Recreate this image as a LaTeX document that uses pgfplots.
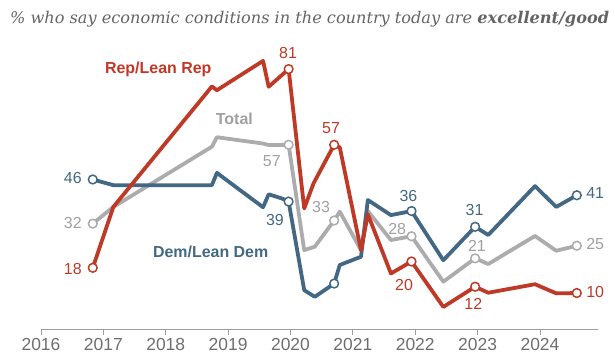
\documentclass[border=0pt]{standalone}
\usepackage{pgfplots}
\pgfplotsset{compat=1.18}
\usepackage{fontspec}
\setmainfont{Liberation Sans}
\newfontfamily\titlefont{DejaVu Serif}
\definecolor{rep}{RGB}{191,57,39}
\definecolor{dem}{RGB}{67,104,132}
\definecolor{tot}{RGB}{172,172,172}
\definecolor{totlab}{RGB}{160,160,160}
\definecolor{ticklab}{RGB}{110,110,110}
\definecolor{titlec}{RGB}{100,100,100}
\newcommand\lab{\fontsize{16}{18}\selectfont}
\newcommand\tlab{\fontsize{17.5}{19}\selectfont}
\newcommand\blab{\fontsize{16}{18}\selectfont\bfseries}
\begin{document}
\begin{tikzpicture}
\path[use as bounding box] (-41bp,-31bp) rectangle (574bp,329bp);
\node[anchor=base west, inner sep=0pt, text=titlec] at (-31bp,305bp)
  {\titlefont\itshape\fontsize{16.2}{18}\selectfont \% who say economic conditions in the country today are \textbf{excellent/good}};
\begin{axis}[
  scale only axis, width=557bp, height=288.3bp,
  xmin=2016, xmax=2024.93, ymin=-1.4, ymax=90,
  axis x line=bottom, axis y line=none,
  x axis line style={-, draw=gray!75, line width=0.8pt},
  xtick={2016,2017,2018,2019,2020,2021,2022,2023,2024},
  xticklabels={2016,2017,2018,2019,2020,2021,2022,2023,2024},
  tick align=outside, major tick length=6bp,
  tick style={draw=gray!75, line width=0.8pt},
  xticklabel style={text=ticklab, font=\tlab},
  clip=false,
  every axis plot/.append style={line width=3.8pt, line join=round, line cap=round},
]
% Total
\addplot[tot, mark=none] coordinates {
(2016.83,32)(2017.16,37.3)(2018.74,56.4)(2018.82,59.4)(2019.56,57.4)(2019.65,56.9)(2019.97,57)
(2020.22,23.6)(2020.39,24.7)(2020.70,33)(2020.79,35.8)(2021.13,23.6)(2021.24,36)(2021.61,26.8)
(2021.94,28)(2022.45,13.6)(2022.96,21)(2023.17,19.2)(2023.92,28.1)(2024.26,23.4)(2024.59,25)};
% Dem
\addplot[dem, mark=none] coordinates {
(2016.83,46)(2017.16,44.2)(2018.74,44.2)(2018.82,48.1)(2019.56,37.2)(2019.65,41.3)(2019.86,40)(2019.97,39)
(2020.22,10.9)(2020.39,8.8)(2020.70,13)(2020.79,18.9)(2021.13,21.5)(2021.24,39.5)(2021.61,34.7)
(2021.94,36)(2022.45,20.4)(2022.96,31)(2023.17,28.4)(2023.92,43.9)(2024.26,37.3)(2024.59,41)};
% Rep
\addplot[rep, mark=none] coordinates {
(2016.83,18)(2017.16,37.3)(2018.74,75.5)(2018.82,74.3)(2019.56,83.6)(2019.65,75.4)(2019.97,81)
(2020.22,36.8)(2020.37,44.8)(2020.70,57)(2020.79,56.2)(2021.13,23.6)(2021.24,35)(2021.61,16.2)
(2021.94,20)(2022.45,5.6)(2022.96,12)(2023.17,10.1)(2023.92,12.8)(2024.26,9.9)(2024.59,10)};
% markers
\addplot[only marks, mark=*, mark size=4.4pt, mark options={fill=white, draw=tot, line width=1.5pt}] coordinates {
(2016.83,32)(2019.97,57)(2020.70,33)(2021.94,28)(2022.96,21)(2024.59,25)};
\addplot[only marks, mark=*, mark size=4.4pt, mark options={fill=white, draw=dem, line width=1.5pt}] coordinates {
(2016.83,46)(2019.97,39)(2020.70,13)(2021.94,36)(2022.96,31)(2024.59,41)};
\addplot[only marks, mark=*, mark size=4.4pt, mark options={fill=white, draw=rep, line width=1.5pt}] coordinates {
(2016.83,18)(2019.97,81)(2020.70,57)(2021.94,20)(2022.96,12)(2024.59,10)};
% labels
\node[text=rep, font=\blab] at (axis cs:2017.88,80.9) {Rep/Lean Rep};
\node[text=totlab, font=\blab] at (axis cs:2019.10,65.1) {Total};
\node[text=dem, font=\blab] at (axis cs:2018.72,23.1) {Dem/Lean Dem};
\node[text=rep, font=\lab] at (axis cs:2019.96,86.2) {81};
\node[text=totlab, font=\lab] at (axis cs:2019.70,51.8) {57};
\node[text=dem, font=\lab] at (axis cs:2016.51,46.4) {46};
\node[text=totlab, font=\lab] at (axis cs:2016.51,32.1) {32};
\node[text=rep, font=\lab] at (axis cs:2016.51,17.5) {18};
\node[text=dem, font=\lab] at (axis cs:2019.75,33.1) {39};
\node[text=rep, font=\lab] at (axis cs:2020.65,62.2) {57};
\node[text=totlab, font=\lab] at (axis cs:2020.49,37.4) {33};
\node[text=dem, font=\lab] at (axis cs:2021.89,40.7) {36};
\node[text=totlab, font=\lab] at (axis cs:2021.71,30.4) {28};
\node[text=rep, font=\lab] at (axis cs:2021.82,12.5) {20};
\node[text=dem, font=\lab] at (axis cs:2022.95,36.3) {31};
\node[text=totlab, font=\lab] at (axis cs:2022.99,24.9) {21};
\node[text=rep, font=\lab] at (axis cs:2022.93,6.5) {12};
\node[text=dem, font=\lab, anchor=west, inner sep=0pt] at (axis cs:2024.74,41.8) {41};
\node[text=totlab, font=\lab, anchor=west, inner sep=0pt] at (axis cs:2024.74,25.7) {25};
\node[text=rep, font=\lab, anchor=west, inner sep=0pt] at (axis cs:2024.74,10.4) {10};
\end{axis}
\end{tikzpicture}
\end{document}
